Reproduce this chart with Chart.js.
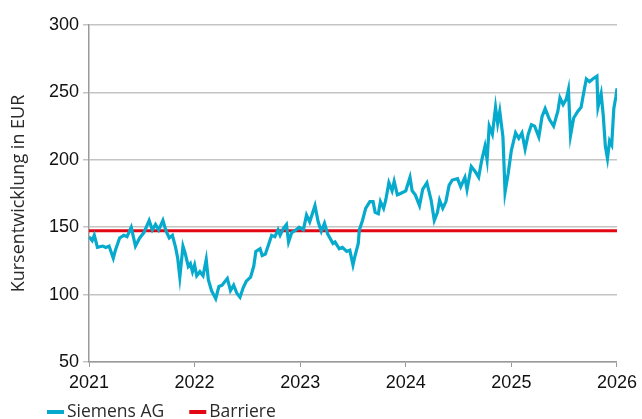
<!DOCTYPE html>
<html>
<head>
<meta charset="utf-8">
<script src="https://cdn.jsdelivr.net/npm/chart.js@4"></script>
<style>
    html, body {
        margin: 0;
        padding: 0;
        background: #ffffff;
    }

    .chart-container {
        position: relative;
        width: 642px;
        height: 419px;
    }
</style>
</head>
<body>
<div class="chart-container">
    <canvas id="chart"></canvas>
</div>

<script>
    // Kursverlauf Siemens AG, x in Jahren
    const dates = [
        2021.00, 2021.03, 2021.05, 2021.08, 2021.13, 2021.16, 2021.19, 2021.23, 2021.25, 2021.29,
        2021.33, 2021.36, 2021.40, 2021.44, 2021.48, 2021.52, 2021.57, 2021.60, 2021.63, 2021.66,
        2021.70, 2021.73, 2021.76, 2021.79, 2021.82, 2021.84, 2021.86, 2021.89, 2021.91, 2021.94,
        2021.96, 2021.98, 2022.00, 2022.02, 2022.05, 2022.08, 2022.11, 2022.13, 2022.16, 2022.20,
        2022.23, 2022.26, 2022.31, 2022.34, 2022.37, 2022.40, 2022.43, 2022.46, 2022.49, 2022.53,
        2022.56, 2022.58, 2022.62, 2022.64, 2022.67, 2022.70, 2022.73, 2022.76, 2022.79, 2022.81,
        2022.84, 2022.87, 2022.89, 2022.92, 2022.96, 2022.99, 2023.03, 2023.06, 2023.09, 2023.14,
        2023.17, 2023.20, 2023.23, 2023.26, 2023.31, 2023.33, 2023.37, 2023.40, 2023.44, 2023.47,
        2023.50, 2023.52, 2023.55, 2023.56, 2023.59, 2023.62, 2023.66, 2023.69, 2023.71, 2023.74,
        2023.76, 2023.79, 2023.81, 2023.84, 2023.87, 2023.89, 2023.92, 2023.95, 2024.00, 2024.04,
        2024.06, 2024.09, 2024.13, 2024.16, 2024.20, 2024.24, 2024.27, 2024.30, 2024.32, 2024.35,
        2024.38, 2024.41, 2024.44, 2024.49, 2024.52, 2024.56, 2024.58, 2024.62, 2024.66, 2024.69,
        2024.72, 2024.75, 2024.77, 2024.79, 2024.82, 2024.85, 2024.87, 2024.89, 2024.92, 2024.94,
        2024.97, 2025.00, 2025.04, 2025.07, 2025.10, 2025.13, 2025.16, 2025.19, 2025.22, 2025.26,
        2025.29, 2025.32, 2025.36, 2025.40, 2025.44, 2025.46, 2025.49, 2025.52, 2025.54, 2025.56,
        2025.59, 2025.63, 2025.66, 2025.69, 2025.71, 2025.74, 2025.77, 2025.81, 2025.82, 2025.85,
        2025.87, 2025.89, 2025.91, 2025.93, 2025.95, 2025.97, 2025.99, 2026.00
    ]
    const siemens = [
        143, 140, 144, 135, 136, 135, 136, 127, 133, 142,
        144, 143, 150, 136, 142, 146, 155, 148, 152, 148,
        155, 147, 142, 144, 135, 127, 113, 136, 131, 121,
        123, 117, 122, 114, 117, 114, 126, 111, 103, 97,
        106, 107, 112, 103, 107, 101, 98, 105, 110, 113,
        121, 132, 134, 129, 130, 137, 144, 143, 148, 144,
        149, 152, 139, 146, 148, 150, 148, 159, 154, 166,
        154, 147, 153, 145, 138, 139, 134, 135, 132, 133,
        122, 129, 138, 148, 155, 164, 169, 169, 161, 160,
        169, 164, 170, 183, 177, 184, 174, 175, 177, 187,
        177, 174, 166, 178, 183, 170, 155, 161, 170, 164,
        169, 181, 185, 186, 180, 187, 178, 195, 191, 187,
        200, 210, 200, 225, 219, 239, 227, 236, 217, 176,
        190, 207, 220, 216, 220, 208, 219, 226, 225, 217,
        232, 238, 230, 225, 236, 246, 241, 245, 252, 218,
        231, 236, 239, 252, 260, 258, 260, 262, 239, 249,
        233, 210, 201, 214, 211, 238, 247, 253
    ]
    const barriere = 147.3
    const xTicks = [2021, 2022, 2023, 2024, 2025, 2026]
    const yTicks = [50, 100, 150, 200, 250, 300]
    const seriesNames = ["Siemens AG", "Barriere"]
    const seriesColors = ["#06aacd", "#e30613"]

    const siemensPoints = dates.map((d, i) => {return {x: d, y: siemens[i]}})
    const barrierePoints = [
        {x: xTicks[0], y: barriere},
        {x: xTicks[xTicks.length - 1], y: barriere}
    ]

    // Legende unten links: kurzer Strich + Text
    const lineLegend = {
        id: "lineLegend",
        afterDraw: (chart) => {
            const ctx = chart.ctx
            ctx.save()
            ctx.font = "17.5px 'Open Sans'"
            ctx.textBaseline = "middle"
            let x = 47
            const y = 412
            chart.data.datasets.forEach((ds) => {
                ctx.fillStyle = ds.borderColor
                ctx.fillRect(x, y - 2, 17, 4)
                ctx.fillStyle = "#2a2a2a"
                ctx.fillText(ds.label, x + 20, y)
                x += 20 + ctx.measureText(ds.label).width + 25
            })
            ctx.restore()
        }
    }

    const ctx = document.getElementById("chart").getContext("2d")
    new Chart(ctx, {
        type: "line",
        data: {
            datasets: [
                {
                    label: seriesNames[0],
                    data: siemensPoints,
                    borderColor: seriesColors[0],
                    borderWidth: 3.2,
                    pointRadius: 0,
                    tension: 0,
                    fill: false
                },
                {
                    label: seriesNames[1],
                    data: barrierePoints,
                    borderColor: seriesColors[1],
                    borderWidth: 3,
                    pointRadius: 0,
                    fill: false
                }
            ]
        },
        options: {
            responsive: true,
            maintainAspectRatio: false,
            animation: false,
            layout: {
                padding: {top: 25, right: 21, bottom: 27, left: 0}
            },
            plugins: {
                legend: {display: false},
                tooltip: {enabled: false}
            },
            scales: {
                x: {
                    type: "linear",
                    min: xTicks[0],
                    max: xTicks[xTicks.length - 1],
                    afterBuildTicks: (scale) => {
                        scale.ticks = xTicks.map((v) => {return {value: v}})
                    },
                    afterFit: (scale) => {
                        scale.height = 30
                    },
                    ticks: {
                        callback: (v) => {return String(v)},
                        font: {family: "'Liberation Sans', Arial", size: 18},
                        color: "#111111",
                        padding: 5,
                        maxRotation: 0
                    },
                    grid: {
                        drawOnChartArea: false,
                        drawTicks: true,
                        tickLength: 5,
                        color: "#999999"
                    },
                    border: {color: "#999999", width: 1.5}
                },
                y: {
                    min: yTicks[0],
                    max: yTicks[yTicks.length - 1],
                    afterBuildTicks: (scale) => {
                        scale.ticks = yTicks.map((v) => {return {value: v}})
                    },
                    afterFit: (scale) => {
                        scale.width = 89
                    },
                    ticks: {
                        font: {family: "'Liberation Sans', Arial", size: 18},
                        color: "#111111",
                        padding: 4
                    },
                    grid: {
                        color: "#c4c4c4",
                        lineWidth: 1.5,
                        tickLength: 6
                    },
                    border: {color: "#999999", width: 1.5},
                    title: {
                        display: true,
                        text: "Kursentwicklung in EUR",
                        font: {family: "'Open Sans'", size: 18},
                        color: "#2a2a2a",
                        padding: {top: 8, bottom: 0}
                    }
                }
            }
        },
        plugins: [lineLegend]
    })
</script>
</body>
</html>
